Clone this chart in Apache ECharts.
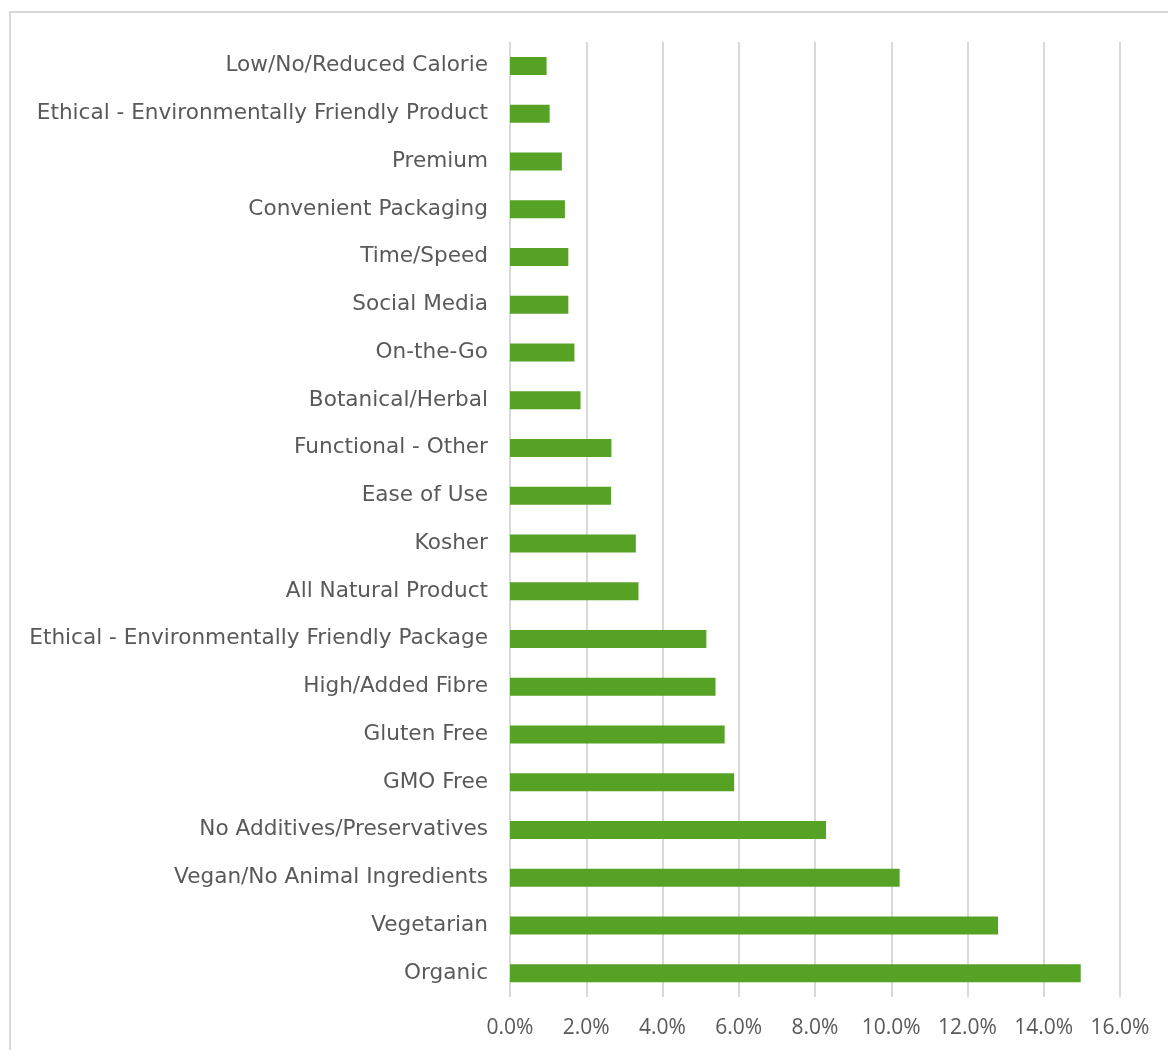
<!DOCTYPE html>
<html>
<head>
<meta charset="utf-8">
<script src="https://cdn.jsdelivr.net/npm/echarts@6/dist/echarts.min.js"></script>
<style>
html,body{margin:0;padding:0;background:#fff;}
#chart{width:1168px;height:1050px;}
</style>
</head>
<body>
<div id="chart"></div>
<script>
const categories = [
  "Low/No/Reduced Calorie",
  "Ethical - Environmentally Friendly Product",
  "Premium",
  "Convenient Packaging",
  "Time/Speed",
  "Social Media",
  "On-the-Go",
  "Botanical/Herbal",
  "Functional - Other",
  "Ease of Use",
  "Kosher",
  "All Natural Product",
  "Ethical - Environmentally Friendly Package",
  "High/Added Fibre",
  "Gluten Free",
  "GMO Free",
  "No Additives/Preservatives",
  "Vegan/No Animal Ingredients",
  "Vegetarian",
  "Organic"
];
const values = [0.96, 1.04, 1.36, 1.44, 1.53, 1.53, 1.69, 1.85, 2.66, 2.65, 3.30, 3.37, 5.15, 5.39, 5.63, 5.88, 8.29, 10.22, 12.80, 14.97];
const xTicks = [0, 2, 4, 6, 8, 10, 12, 14, 16];

const chart = echarts.init(document.getElementById('chart'));
const yFont = "'DejaVu Sans', sans-serif";
const xFont = "'Open Sans', sans-serif";
chart.setOption({
  animation: false,
  backgroundColor: '#ffffff',
  graphic: [{
    type: 'rect',
    shape: { x: 10, y: 12, width: 1300, height: 1200 },
    style: { fill: 'none', stroke: '#d9d9d9', lineWidth: 2 },
    silent: true,
    z: -1
  }],
  grid: { left: 510, right: 48, top: 42, bottom: 53, containLabel: false },
  xAxis: {
    type: 'value',
    min: xTicks[0],
    max: xTicks[xTicks.length - 1],
    interval: 2,
    axisLine: { show: false },
    axisTick: { show: false },
    splitLine: { show: true, lineStyle: { color: '#d9d9d9', width: 2 } },
    axisLabel: {
      formatter: v => v.toFixed(1) + '%',
      color: '#595959',
      fontSize: 21,
      fontFamily: xFont,
      margin: 21
    }
  },
  yAxis: {
    type: 'category',
    data: categories,
    inverse: true,
    axisLine: { show: false },
    axisTick: { show: false },
    axisLabel: {
      color: '#595959',
      fontSize: 21.6,
      fontFamily: yFont,
      margin: 22,
      padding: [6, 0, 0, 0]
    }
  },
  series: [{
    type: 'bar',
    data: values,
    barWidth: 18,
    itemStyle: { color: '#55a224' }
  }]
});
</script>
</body>
</html>
